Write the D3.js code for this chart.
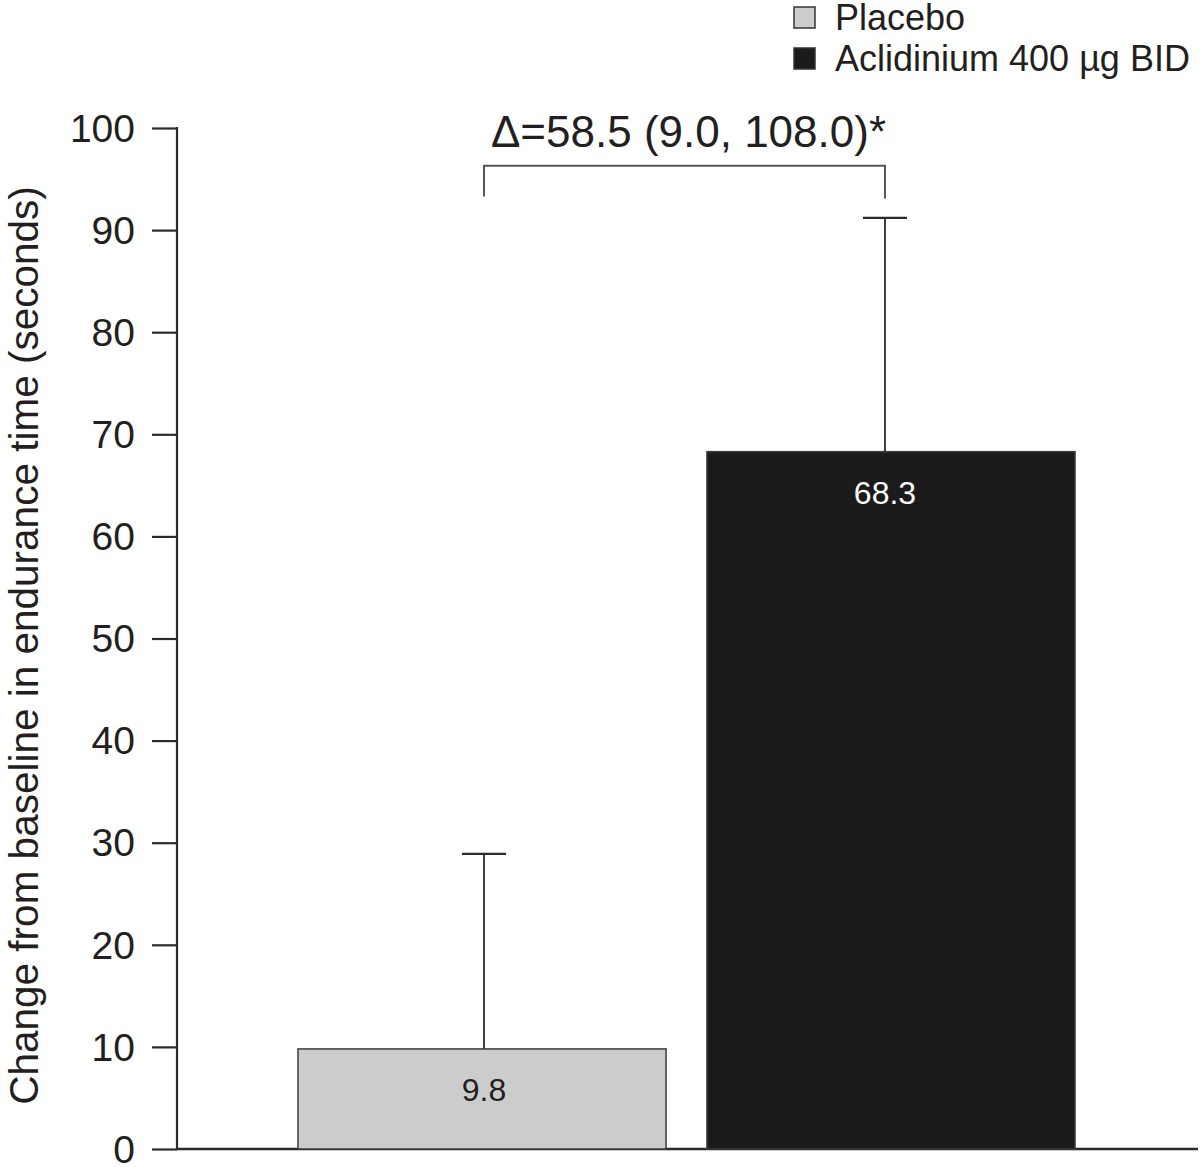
<!DOCTYPE html>
<html><head><meta charset="utf-8">
<script src="https://cdn.jsdelivr.net/npm/d3@7"></script>
<style>body{margin:0;background:#fff}svg{display:block}text{font-family:"Liberation Sans",Arial,Helvetica,sans-serif;fill:#231f20}</style>
</head><body>
<script>
const categories = ["Placebo", "Aclidinium 400 µg BID"];
const means = [9.8, 68.3];
const upperErr = [28.9, 91.2];
const valueLabels = ["9.8", "68.3"];
const fills = ["#cccccc", "#1b1b1b"];
const labelColors = ["#231f20", "#ffffff"];
const yTicks = [0,10,20,30,40,50,60,70,80,90,100];
const deltaText = "\u0394=58.5 (9.0, 108.0)*";
const bracketTop = 96.3, bracketLeftBottom = 93.3, bracketRightBottom = 93.1;
const yTitle = "Change from baseline in endurance time (seconds)";

const W = 1200, H = 1167;
const svg = d3.select("body").append("svg").attr("width", W).attr("height", H);
const y = d3.scaleLinear().domain([0, 100]).range([1149, 128]);
const x = d3.scaleBand().domain(categories).range([257.1, 1115.9]).paddingInner(0.1).paddingOuter(0.1);
const axisX = 177;
const ink = "#2b2b2b";
// error bars / labels sit slightly off the bar centre in the original
const centreShift = [2, -6];
const cxOf = i => x(categories[i]) + x.bandwidth() / 2 + centreShift[i];

// y axis
const yAxis = d3.axisLeft(y).tickValues(yTicks).tickSize(25).tickPadding(17).tickFormat(d3.format("d"));
const gy = svg.append("g").attr("transform", `translate(${axisX},0)`).call(yAxis);
gy.select(".domain").remove();
gy.selectAll(".tick line").attr("stroke", ink).attr("stroke-width", 2.2);
gy.selectAll(".tick text").style("font-size", "39px").attr("fill", "#231f20").attr("dy", "0.34em");
svg.append("line").attr("x1", axisX).attr("x2", axisX).attr("y1", y(100) - 1).attr("y2", y(0))
  .attr("stroke", ink).attr("stroke-width", 2.2);
// baseline
svg.append("line").attr("x1", axisX).attr("x2", 1198).attr("y1", y(0)).attr("y2", y(0))
  .attr("stroke", ink).attr("stroke-width", 2.6);

// y title
svg.append("text").attr("transform", `translate(38,${(y(0)+y(100))/2 + 7}) rotate(-90)`)
  .attr("text-anchor", "middle").style("font-size", "40.5px").text(yTitle);

// error bars (upper only)
const capHalf = 22;
categories.forEach((c, i) => {
  const cx = cxOf(i);
  svg.append("line").attr("x1", cx).attr("x2", cx).attr("y1", y(means[i])).attr("y2", y(upperErr[i]))
    .attr("stroke", ink).attr("stroke-width", 1.8);
  svg.append("line").attr("x1", cx - capHalf).attr("x2", cx + capHalf).attr("y1", y(upperErr[i])).attr("y2", y(upperErr[i]))
    .attr("stroke", ink).attr("stroke-width", 2.2);
});

// bars
svg.selectAll("rect.bar").data(categories).join("rect").attr("class", "bar")
  .attr("x", d => x(d)).attr("width", x.bandwidth())
  .attr("y", (d, i) => y(means[i])).attr("height", (d, i) => y(0) - y(means[i]))
  .attr("fill", (d, i) => fills[i]).attr("stroke", "#3a3a3a").attr("stroke-width", 1.5);

// value labels
svg.selectAll("text.val").data(categories).join("text").attr("class", "val")
  .attr("x", (d, i) => cxOf(i)).attr("y", (d, i) => y(means[i]) + 52)
  .attr("text-anchor", "middle").style("font-size", "32px")
  .style("fill", (d, i) => labelColors[i]).text((d, i) => valueLabels[i]);

// bracket
const bx1 = cxOf(0), bx2 = cxOf(1);
svg.append("path")
  .attr("d", `M${bx1},${y(bracketLeftBottom)}V${y(bracketTop)}H${bx2}V${y(bracketRightBottom)}`)
  .attr("fill", "none").attr("stroke", "#555").attr("stroke-width", 2);
svg.append("text").attr("x", (bx1 + bx2) / 2 + 4).attr("y", y(bracketTop) - 19)
  .attr("text-anchor", "middle").style("font-size", "44px").text(deltaText);

// legend
const legend = svg.append("g");
categories.forEach((c, i) => {
  const ly = 7 + i * 41;
  legend.append("rect").attr("x", 794).attr("y", ly).attr("width", 21).attr("height", 21)
    .attr("fill", fills[i]).attr("stroke", "#333").attr("stroke-width", 1.5);
  legend.append("text").attr("x", 835).attr("y", ly + 23).style("font-size", "36px").text(c);
});
</script>
</body></html>
